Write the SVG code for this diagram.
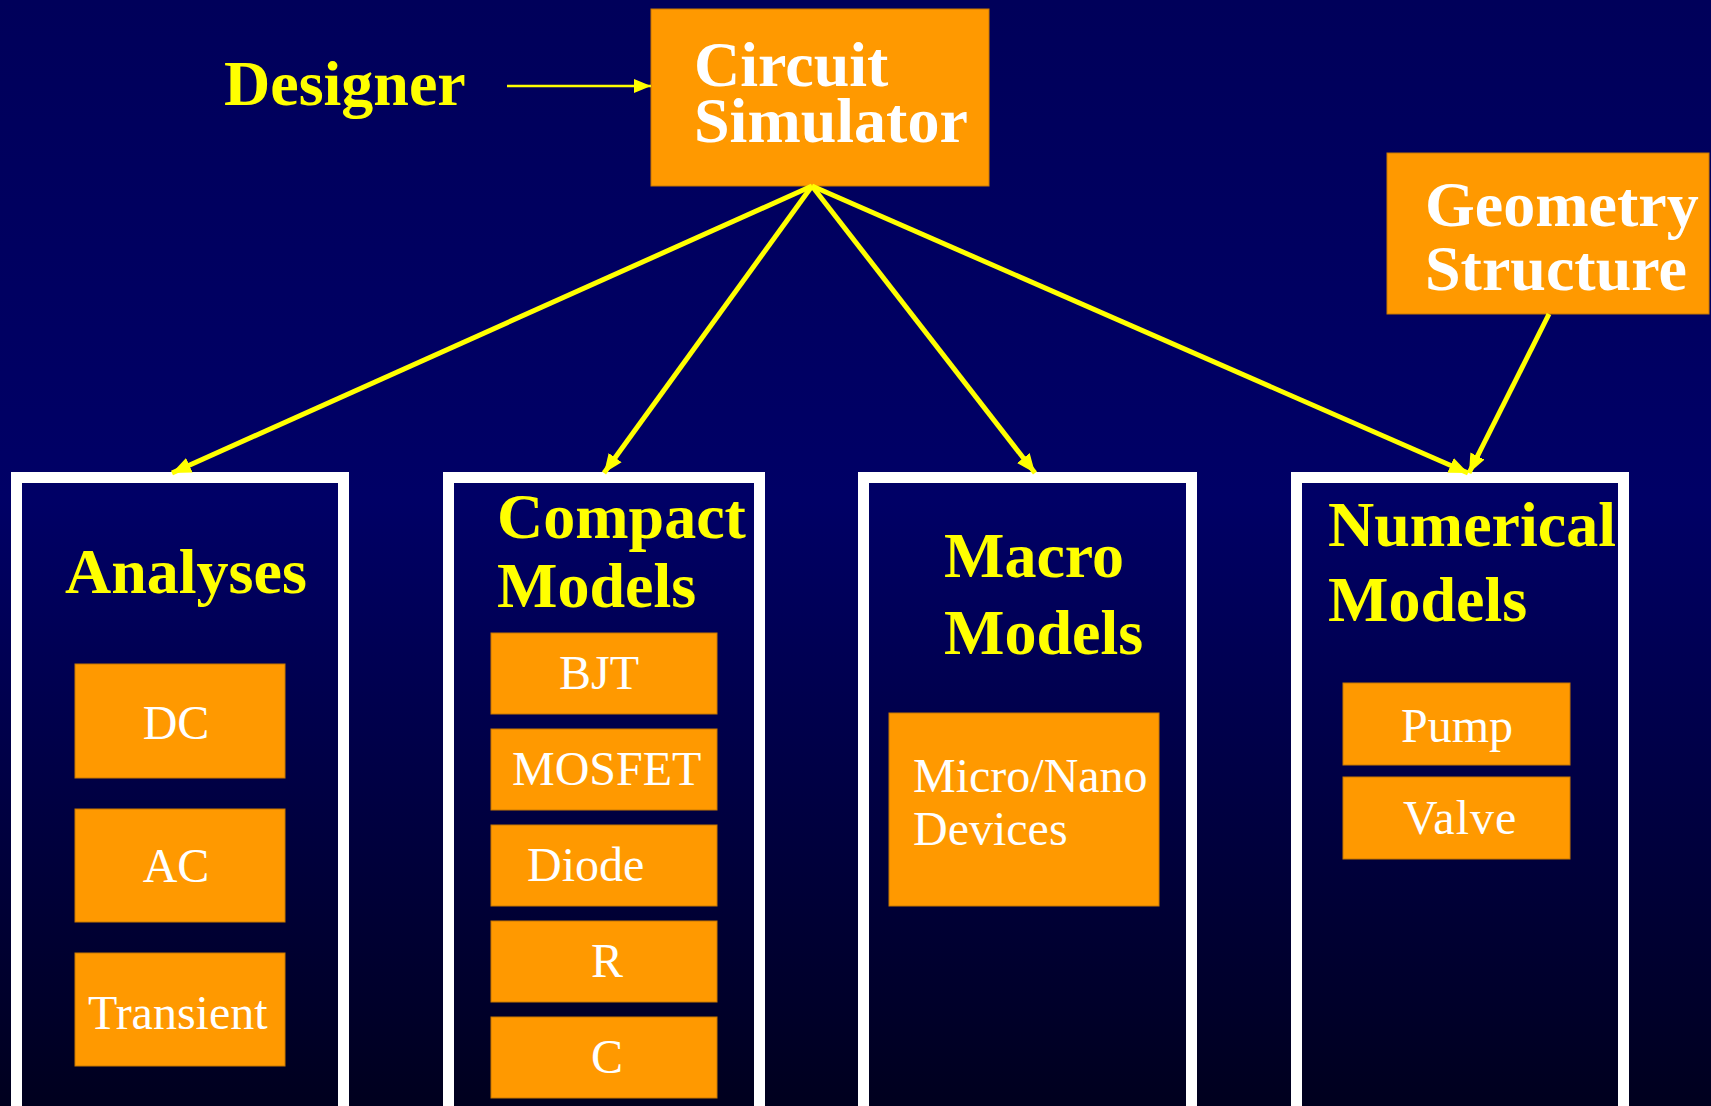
<svg xmlns="http://www.w3.org/2000/svg" width="1711" height="1106" viewBox="0 0 1711 1106">
<defs>
<linearGradient id="bg" gradientUnits="userSpaceOnUse" x1="0" y1="0" x2="0" y2="1106">
<stop offset="0" stop-color="#00005A"/>
<stop offset="0.45" stop-color="#000066"/>
<stop offset="1" stop-color="#00001E"/>
</linearGradient>
<marker id="ah" markerUnits="userSpaceOnUse" markerWidth="20" markerHeight="20" viewBox="0 0 20 20" refX="19" refY="10" orient="auto">
<path d="M0,2 L19,10 L0,18 z" fill="#FFFF00"/>
</marker>
<marker id="ahs" markerUnits="userSpaceOnUse" markerWidth="18" markerHeight="18" viewBox="0 0 18 18" refX="17" refY="9" orient="auto">
<path d="M0,2 L17,9 L0,16 z" fill="#FFFF00"/>
</marker>
</defs>
<style>
.box{fill:#FF9900;stroke:#C87800;stroke-width:1}
.panel{fill:url(#bg);stroke:#FFFFFF;stroke-width:11}
.h{font-family:"Liberation Serif","Times New Roman",serif;font-weight:bold;font-size:64px;fill:#FFFF00}
.hw{font-family:"Liberation Serif","Times New Roman",serif;font-weight:bold;font-size:64px;fill:#FFFFFF}
.t{font-family:"Liberation Serif","Times New Roman",serif;font-size:48px;fill:#FFFFFF}
.c{stroke:#FFFF00;stroke-width:5;fill:none;marker-end:url(#ah)}
</style>
<rect x="0" y="0" width="1711" height="1106" fill="url(#bg)"/>

<g id="designer">
<text class="h" x="224" y="105">Designer</text>
</g>

<g id="circuit-simulator">
<rect class="box" x="651" y="9" width="338" height="177"/>
<text class="hw" x="694" y="86">Circuit</text>
<text class="hw" x="694" y="142">Simulator</text>
</g>

<g id="geometry-structure">
<rect class="box" x="1387" y="153" width="322" height="161"/>
<text class="hw" x="1425" y="226">Geometry</text>
<text class="hw" x="1425" y="290">Structure</text>
</g>

<g id="analyses">
<rect class="panel" x="16.5" y="477.5" width="327" height="700"/>
<text class="h" x="65" y="593">Analyses</text>
<g id="dc"><rect class="box" x="75" y="664" width="210" height="114"/><text class="t" x="176" y="739" text-anchor="middle">DC</text></g>
<g id="ac"><rect class="box" x="75" y="809" width="210" height="113"/><text class="t" x="176" y="882" text-anchor="middle">AC</text></g>
<g id="transient"><rect class="box" x="75" y="953" width="210" height="113"/><text class="t" x="88" y="1029">Transient</text></g>
</g>

<g id="compact-models">
<rect class="panel" x="448.5" y="477.5" width="311" height="700"/>
<text class="h" x="497" y="538">Compact</text>
<text class="h" x="497" y="607">Models</text>
<g id="bjt"><rect class="box" x="491" y="633" width="226" height="81"/><text class="t" x="559" y="689">BJT</text></g>
<g id="mosfet"><rect class="box" x="491" y="729" width="226" height="81"/><text class="t" x="512" y="785">MOSFET</text></g>
<g id="diode"><rect class="box" x="491" y="825" width="226" height="81"/><text class="t" x="527" y="881">Diode</text></g>
<g id="r"><rect class="box" x="491" y="921" width="226" height="81"/><text class="t" x="591" y="977">R</text></g>
<g id="c"><rect class="box" x="491" y="1017" width="226" height="81"/><text class="t" x="591" y="1073">C</text></g>
</g>

<g id="macro-models">
<rect class="panel" x="863.5" y="477.5" width="328" height="700"/>
<text class="h" x="944" y="577">Macro</text>
<text class="h" x="944" y="654">Models</text>
<g id="micro-nano"><rect class="box" x="889" y="713" width="270" height="193"/>
<text class="t" x="913" y="792">Micro/Nano</text>
<text class="t" x="913" y="845">Devices</text></g>
</g>

<g id="numerical-models">
<rect class="panel" x="1296.5" y="477.5" width="327" height="700"/>
<text class="h" x="1328" y="546">Numerical</text>
<text class="h" x="1328" y="621">Models</text>
<g id="pump"><rect class="box" x="1343" y="683" width="227" height="82"/><text class="t" x="1401" y="742">Pump</text></g>
<g id="valve"><rect class="box" x="1343" y="777" width="227" height="82"/><text class="t" x="1403" y="834" letter-spacing="1">Valve</text></g>
</g>

<g id="connectors">
<line x1="507" y1="86" x2="651" y2="86" stroke="#FFFF00" stroke-width="2.5" marker-end="url(#ahs)"/>
<line class="c" x1="812" y1="186" x2="172" y2="473"/>
<line class="c" x1="812" y1="186" x2="604" y2="473"/>
<line class="c" x1="812" y1="186" x2="1035" y2="473"/>
<line class="c" x1="812" y1="186" x2="1468" y2="473"/>
<line class="c" x1="1549" y1="314" x2="1469" y2="473"/>
</g>
</svg>
